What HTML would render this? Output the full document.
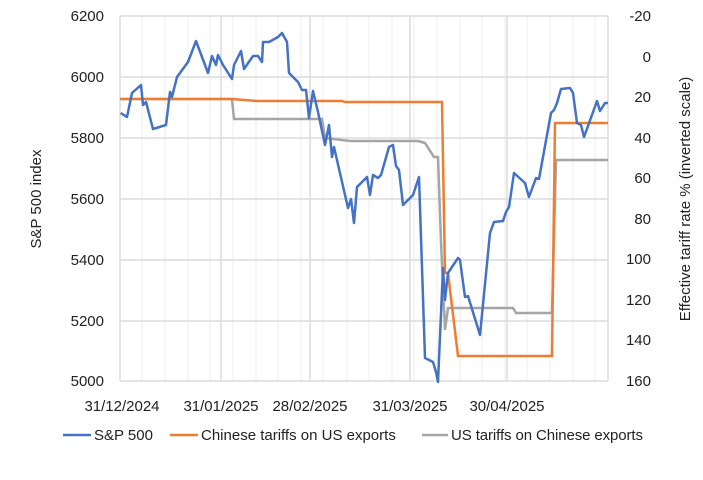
<!DOCTYPE html><html><head><style>body{margin:0;background:#fff}svg{font-family:"Liberation Sans",sans-serif}</style></head><body>
<svg width="703" height="475" xmlns="http://www.w3.org/2000/svg">
<rect width="703" height="475" fill="#fff"/>
<g stroke="#ececec" stroke-width="1">
<line x1="142" y1="16" x2="142" y2="381"/><line x1="165" y1="16" x2="165" y2="381"/><line x1="188" y1="16" x2="188" y2="381"/><line x1="210" y1="16" x2="210" y2="381"/><line x1="233" y1="16" x2="233" y2="381"/><line x1="256" y1="16" x2="256" y2="381"/><line x1="278" y1="16" x2="278" y2="381"/><line x1="301" y1="16" x2="301" y2="381"/><line x1="323" y1="16" x2="323" y2="381"/><line x1="347" y1="16" x2="347" y2="381"/><line x1="369" y1="16" x2="369" y2="381"/><line x1="392" y1="16" x2="392" y2="381"/><line x1="414" y1="16" x2="414" y2="381"/><line x1="437" y1="16" x2="437" y2="381"/><line x1="460" y1="16" x2="460" y2="381"/><line x1="482" y1="16" x2="482" y2="381"/><line x1="505" y1="16" x2="505" y2="381"/><line x1="527" y1="16" x2="527" y2="381"/><line x1="550" y1="16" x2="550" y2="381"/><line x1="573" y1="16" x2="573" y2="381"/><line x1="595" y1="16" x2="595" y2="381"/>
</g>
<g stroke="#dcdcdc" stroke-width="1.5">
<line x1="221" y1="16" x2="221" y2="381"/><line x1="310" y1="16" x2="310" y2="381"/><line x1="410" y1="16" x2="410" y2="381"/><line x1="507" y1="16" x2="507" y2="381"/><line x1="608" y1="16" x2="608" y2="381"/><line x1="120" y1="16" x2="120" y2="381"/>
<line x1="120" y1="16" x2="608" y2="16"/><line x1="120" y1="77" x2="608" y2="77"/><line x1="120" y1="138" x2="608" y2="138"/><line x1="120" y1="199" x2="608" y2="199"/><line x1="120" y1="260" x2="608" y2="260"/><line x1="120" y1="321" x2="608" y2="321"/><line x1="120" y1="381" x2="608" y2="381"/>
</g>
<polyline fill="none" stroke="#a5a5a5" stroke-width="2.5" points="120,99 232,99 234,119 310,119 322,119 325,138 350,141 418,141 425,143 434,157 438,157 441,242 445,330 448,308 513,308 516,313 552,313 556,160 608,160"/>
<polyline fill="none" stroke="#ed7d31" stroke-width="2.5" points="120,99 232,99 257,101 342,101 345,102 442,102 445,273 448,273 458,356 552,356 555,123 608,123"/>
<polyline fill="none" stroke="#4472c4" stroke-width="2.5" stroke-linejoin="round" points="120.7,113 127,117 132,93 141,85 143,105 146,102 153,129 166,125 170,92 172,97 177,77 188,62 196,41 208,73 212,56 216,65 218,55 223,65 232,79 234,65 241,51 244,69 253,56 258,56 262,62 263,42 269,42 278,37 282,33 287,42 289,73 298,82 302,90 306,90 309,118 313,91 318,112 325,145 329,125 332,157 334,147 348,208 351,199 354,223 357,187 367,177 370,195 373,175 378,178 381,175 389,147 393,145 396,166 399,170 403,205 413,195 419,177 425,358 433,362 436,372 438,382 443,268 445,300 448,273 458,258 460,260 465,297 468,296 480,335 490,233 494,222 503,221 506,212 509,207 514,173 525,183 529,197 536,178 539,179 551,113 554,110 557,103 561,89 570,88 573,93 577,123 581,125 584,137 597,101 600,111 605,103 608,103"/>
<g font-size="15" fill="#222" text-anchor="end">
<text x="104" y="21">6200</text><text x="104" y="82">6000</text><text x="104" y="143">5800</text><text x="104" y="204">5600</text><text x="104" y="265">5400</text><text x="104" y="326">5200</text><text x="104" y="386">5000</text>
</g>
<g font-size="15" fill="#222" text-anchor="end">
<text x="651" y="21">-20</text><text x="651" y="62">0</text><text x="651" y="102">20</text><text x="651" y="143">40</text><text x="651" y="183">60</text><text x="651" y="224">80</text><text x="651" y="264">100</text><text x="651" y="305">120</text><text x="651" y="345">140</text><text x="651" y="386">160</text>
</g>
<g font-size="15" fill="#222" text-anchor="middle">
<text x="122" y="411">31/12/2024</text><text x="221" y="411">31/01/2025</text><text x="310" y="411">28/02/2025</text><text x="410" y="411">31/03/2025</text><text x="507" y="411">30/04/2025</text>
</g>
<text font-size="15" fill="#222" text-anchor="middle" transform="translate(41,199) rotate(-90)">S&amp;P 500 index</text>
<text font-size="15" fill="#222" text-anchor="middle" transform="translate(690,199) rotate(-90)">Effective tariff rate % (inverted scale)</text>
<g font-size="15" fill="#222">
<line x1="63" y1="435" x2="91" y2="435" stroke="#4472c4" stroke-width="2.5"/><text x="94" y="440">S&amp;P 500</text>
<line x1="170" y1="435" x2="198" y2="435" stroke="#ed7d31" stroke-width="2.5"/><text x="201" y="440">Chinese tariffs on US exports</text>
<line x1="422" y1="435" x2="448" y2="435" stroke="#a5a5a5" stroke-width="2.5"/><text x="451" y="440" textLength="192">US tariffs on Chinese exports</text>
</g>
</svg></body></html>
